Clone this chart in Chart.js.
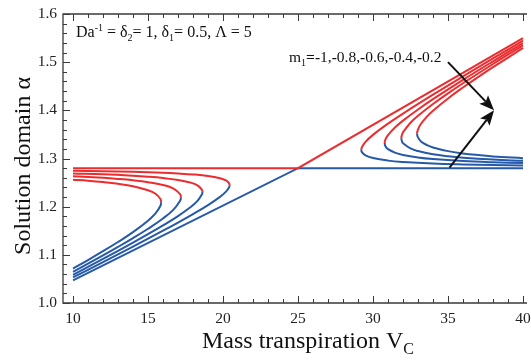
<!DOCTYPE html>
<html>
<head>
<meta charset="utf-8">
<script src="https://cdn.jsdelivr.net/npm/chart.js@4/dist/chart.umd.min.js"></script>
<style>
  html, body { margin: 0; padding: 0; background: #fff; }
  #wrap { width: 531px; height: 362px; }
</style>
</head>
<body>
<div id="wrap"><canvas id="chart"></canvas></div>
<script>
// tick labels
var xTicks = [10, 15, 20, 25, 30, 35, 40];
var yTicks = [1.0, 1.1, 1.2, 1.3, 1.4, 1.5, 1.6];
var mValues = [-1, -0.8, -0.6, -0.4, -0.2];

// crossing case (straight lines)
var crossRed = [[10, 1.28], [25, 1.28], [40, 1.55]];
var crossBlue = [[10, 1.047], [25, 1.28], [40, 1.28]];

// left folds: upper (red) branch then lower (blue) branch, [Vc, alpha]
var left1Upper = [[10, 1.2745], [12, 1.2736], [14, 1.2723], [16, 1.2704], [17, 1.2689], [18, 1.2669], [19, 1.2637], [19.8, 1.2590], [20.2, 1.2544], [20.4, 1.2489], [20.44, 1.2446]];
var left1Lower = [[20.44, 1.2446], [20.4, 1.2398], [20.2, 1.2312], [19.8, 1.2204], [19, 1.2033], [18, 1.1846], [17, 1.1671], [16, 1.1501], [14, 1.1172], [12, 1.0849], [10, 1.053]];
var left2Upper = [[10, 1.2690], [12, 1.2671], [14, 1.2642], [15, 1.2622], [16, 1.2595], [17, 1.2555], [17.8, 1.2502], [18.3, 1.2441], [18.6, 1.2349], [18.63, 1.2306]];
var left2Lower = [[18.63, 1.2306], [18.6, 1.2259], [18.3, 1.2121], [17.8, 1.1982], [17, 1.1805], [16, 1.1610], [15, 1.1428], [14, 1.1253], [12, 1.0914], [10, 1.0585]];
var left3Upper = [[10, 1.2630], [12, 1.2598], [13, 1.2576], [14, 1.2548], [15, 1.2509], [16, 1.2450], [16.7, 1.2375], [17.15, 1.2256], [17.19, 1.2195]];
var left3Lower = [[17.19, 1.2195], [17.15, 1.2127], [16.7, 1.1938], [16, 1.1755], [15, 1.1541], [14, 1.1347], [13, 1.1164], [12, 1.0987], [10, 1.0645]];
var left4Upper = [[10, 1.2560], [11, 1.2538], [12, 1.2510], [13, 1.2474], [14, 1.2424], [15, 1.2342], [15.5, 1.2269], [15.83, 1.2160], [15.87, 1.2093]];
var left4Lower = [[15.87, 1.2093], [15.83, 1.2018], [15.5, 1.1859], [15, 1.1708], [14, 1.1471], [13, 1.1266], [12, 1.1075], [11, 1.0892], [10, 1.0715]];

// right folds
var right1Upper = [[40, 1.5445], [38, 1.5077], [36, 1.4704], [34, 1.4325], [32, 1.3933], [31, 1.3724], [30, 1.3491], [29.5, 1.3345], [29.26, 1.3234], [29.22, 1.318]];
var right1Lower = [[29.22, 1.318], [29.26, 1.3132], [29.5, 1.3065], [30, 1.3009], [31, 1.2956], [32, 1.2928], [34, 1.2895], [36, 1.2876], [38, 1.2863], [40, 1.2855]];
var right2Upper = [[40, 1.5396], [38, 1.5018], [36, 1.4632], [34, 1.4231], [33, 1.4018], [32, 1.3786], [31.5, 1.3653], [31, 1.3486], [30.83, 1.3395], [30.78, 1.332]];
var right2Lower = [[30.78, 1.332], [30.83, 1.3255], [31, 1.3194], [31.5, 1.3117], [32, 1.3074], [33, 1.3022], [34, 1.2989], [36, 1.2948], [38, 1.2922], [40, 1.2904]];
var right3Upper = [[40, 1.5349], [38, 1.4962], [36, 1.4562], [35, 1.4352], [34, 1.4131], [33, 1.3886], [32.5, 1.3742], [32, 1.3542], [31.94, 1.3500], [31.89, 1.342]];
var right3Lower = [[31.89, 1.342], [31.94, 1.3349], [32, 1.3318], [32.5, 1.3208], [33, 1.3154], [34, 1.3089], [35, 1.3048], [36, 1.3018], [38, 1.2978], [40, 1.2951]];
var right4Upper = [[40, 1.5295], [38, 1.4896], [37, 1.4689], [36, 1.4475], [35, 1.4247], [34, 1.3991], [33.6, 1.3870], [33.2, 1.3721], [32.99, 1.3596], [32.94, 1.3515]];
var right4Lower = [[32.94, 1.3515], [32.99, 1.3443], [33.2, 1.3355], [33.6, 1.3278], [34, 1.3229], [35, 1.3153], [36, 1.3105], [37, 1.3071], [38, 1.3044], [40, 1.3005]];

// annotation arrow: tails and common tip
var arrowTails = [[35.0, 1.50], [35.1, 1.281]];
var arrowTip = [38.07, 1.40];

var RED = 'rgb(236,44,46)';
var BLUE = 'rgb(38,90,168)';

function fold(upper, lower, label) {
	var turn = upper.length - 1;
	return {
		label: label,
		data: upper.concat(lower.slice(1)),
		borderColor: RED,
		segment: {
			borderColor: function(c) { return c.p0DataIndex < turn ? RED : BLUE; }
		},
		tension: 0.4
	};
}

var datasets = [
	{ label: 'm1 = ' + mValues[0] + ' upper', data: crossRed, borderColor: RED, tension: 0 },
	{ label: 'm1 = ' + mValues[0] + ' lower', data: crossBlue, borderColor: BLUE, tension: 0 },
	fold(left1Upper, left1Lower, 'm1 = ' + mValues[1]),
	fold(left2Upper, left2Lower, 'm1 = ' + mValues[2]),
	fold(left3Upper, left3Lower, 'm1 = ' + mValues[3]),
	fold(left4Upper, left4Lower, 'm1 = ' + mValues[4]),
	fold(right1Upper, right1Lower, 'm1 = ' + mValues[1]),
	fold(right2Upper, right2Lower, 'm1 = ' + mValues[2]),
	fold(right3Upper, right3Lower, 'm1 = ' + mValues[3]),
	fold(right4Upper, right4Lower, 'm1 = ' + mValues[4])
];

var SERIF = '"Liberation Serif", "Times New Roman", serif';

function runFont(kind, size) {
	if (kind === 'b') return 'bold ' + size + 'px ' + SERIF;
	if (kind === 'sub' || kind === 'sup') return Math.round(size * 0.65) + 'px ' + SERIF;
	return size + 'px ' + SERIF;
}

// text with sub/superscripts; runs = [[text, 'n'|'b'|'sub'|'sup'], ...]
function richText(ctx, x, y, runs, size) {
	runs.forEach(function(r) {
		var dy = r[1] === 'sub' ? size * 0.25 : (r[1] === 'sup' ? -size * 0.38 : 0);
		ctx.font = runFont(r[1], size);
		ctx.fillText(r[0], x, y + dy);
		x += ctx.measureText(r[0]).width;
	});
	return x;
}

function richWidth(ctx, runs, size) {
	var w = 0;
	runs.forEach(function(r) {
		ctx.font = runFont(r[1], size);
		w += ctx.measureText(r[0]).width;
	});
	return w;
}

var decorations = {
	id: 'decorations',
	afterDraw: function(chart) {
		var ctx = chart.ctx, a = chart.chartArea;
		var xs = chart.scales.x, ys = chart.scales.y;
		ctx.save();

		// frame with inward ticks
		ctx.strokeStyle = '#3a3a3a';
		ctx.lineWidth = 1.3;
		ctx.beginPath();
		ctx.moveTo(a.right, a.top); ctx.lineTo(a.left, a.top);
		ctx.lineTo(a.left, a.bottom); ctx.lineTo(a.right, a.bottom);
		ctx.stroke();
		ctx.lineWidth = 1;
		ctx.beginPath();
		for (var v = 10; v <= 40; v++) {
			var px = Math.round(xs.getPixelForValue(v)) + 0.5;
			var len = v % 5 === 0 ? 7 : 4;
			ctx.moveTo(px, a.bottom); ctx.lineTo(px, a.bottom - len);
			ctx.moveTo(px, a.top); ctx.lineTo(px, a.top + len);
		}
		for (var i = 0; i <= 30; i++) {
			var py = Math.round(ys.getPixelForValue(1 + i * 0.02)) + 0.5;
			var l = i % 5 === 0 ? 7 : 4;
			ctx.moveTo(a.left, py); ctx.lineTo(a.left + l, py);
		}
		ctx.stroke();

		// arrows
		var tx = xs.getPixelForValue(arrowTip[0]), ty = ys.getPixelForValue(arrowTip[1]);
		ctx.strokeStyle = '#111';
		ctx.fillStyle = '#111';
		arrowTails.forEach(function(t) {
			var sx = xs.getPixelForValue(t[0]), sy = ys.getPixelForValue(t[1]);
			var ang = Math.atan2(ty - sy, tx - sx);
			var hl = 15, hw = 6;
			var bx = tx - hl * Math.cos(ang), by = ty - hl * Math.sin(ang);
			ctx.lineWidth = 2;
			ctx.beginPath();
			ctx.moveTo(sx, sy); ctx.lineTo(bx + 3 * Math.cos(ang), by + 3 * Math.sin(ang));
			ctx.stroke();
			ctx.beginPath();
			ctx.moveTo(tx, ty);
			ctx.lineTo(bx + hw * Math.sin(ang), by - hw * Math.cos(ang));
			ctx.lineTo(bx + 3 * Math.cos(ang), by + 3 * Math.sin(ang));
			ctx.lineTo(bx - hw * Math.sin(ang), by + hw * Math.cos(ang));
			ctx.closePath();
			ctx.fill();
		});

		// texts
		ctx.fillStyle = '#111';
		ctx.textAlign = 'left';
		ctx.textBaseline = 'alphabetic';
		richText(ctx, a.left + 13, a.top + 23, [
			['Da', 'n'], ['-1', 'sup'], [' = \u03b4', 'n'], ['2', 'sub'],
			['= 1, \u03b4', 'n'], ['1', 'sub'], ['= 0.5, \u039b = 5', 'n']
		], 16);
		richText(ctx, 289, 62, [
			['m', 'n'], ['1', 'sub'], ['=-', 'b'], ['1,', 'n'], ['-', 'b'], ['0.8,', 'n'],
			['-', 'b'], ['0.6,', 'n'], ['-', 'b'], ['0.4,', 'n'], ['-', 'b'], ['0.2', 'n']
		], 15.5);

		// x title
		var xRuns = [['Mass transpiration V', 'n'], ['C', 'sub']];
		var w = richWidth(ctx, xRuns, 24);
		richText(ctx, 308 - w / 2, 348, xRuns, 24);

		// y title
		ctx.save();
		ctx.translate(30, 166);
		ctx.rotate(-Math.PI / 2);
		ctx.font = '24px ' + SERIF;
		ctx.textAlign = 'center';
		ctx.fillText('Solution domain \u03b1', 0, 0);
		ctx.restore();

		ctx.restore();
	}
};

var ctx = document.getElementById('chart').getContext('2d');
var chart = new Chart(ctx, {
	type: 'scatter',
	data: { datasets: datasets },
	options: {
		responsive: true,
		maintainAspectRatio: false,
		animation: false,
		layout: { padding: { top: 14, right: 4, left: 0, bottom: 0 } },
		elements: {
			point: { radius: 0, hoverRadius: 0 },
			line: { borderWidth: 2, fill: false }
		},
		datasets: { scatter: { showLine: true } },
		plugins: {
			legend: { display: false },
			tooltip: { enabled: false }
		},
		scales: {
			x: {
				type: 'linear',
				min: 9.333,
				max: 40.267,
				grid: { display: false, drawTicks: false },
				border: { display: false },
				afterBuildTicks: function(s) { s.ticks = xTicks.map(function(v) { return { value: v }; }); },
				afterFit: function(s) { s.height = 59; s.paddingRight = 0; s.paddingLeft = 0; },
				ticks: {
					padding: 7,
					color: '#222',
					font: { family: SERIF, size: 15.5 },
					callback: function(v) { return String(v); }
				}
			},
			y: {
				type: 'linear',
				min: 1.0,
				max: 1.6,
				grid: { display: false, drawTicks: false },
				border: { display: false },
				afterBuildTicks: function(s) { s.ticks = yTicks.map(function(v) { return { value: v }; }); },
				afterFit: function(s) { s.width = 63; s.paddingTop = 0; s.paddingBottom = 0; },
				ticks: {
					padding: 6,
					color: '#222',
					font: { family: SERIF, size: 15.5 },
					callback: function(v) { return Number(v).toFixed(1); }
				}
			}
		}
	},
	plugins: [decorations]
});
</script>
</body>
</html>
